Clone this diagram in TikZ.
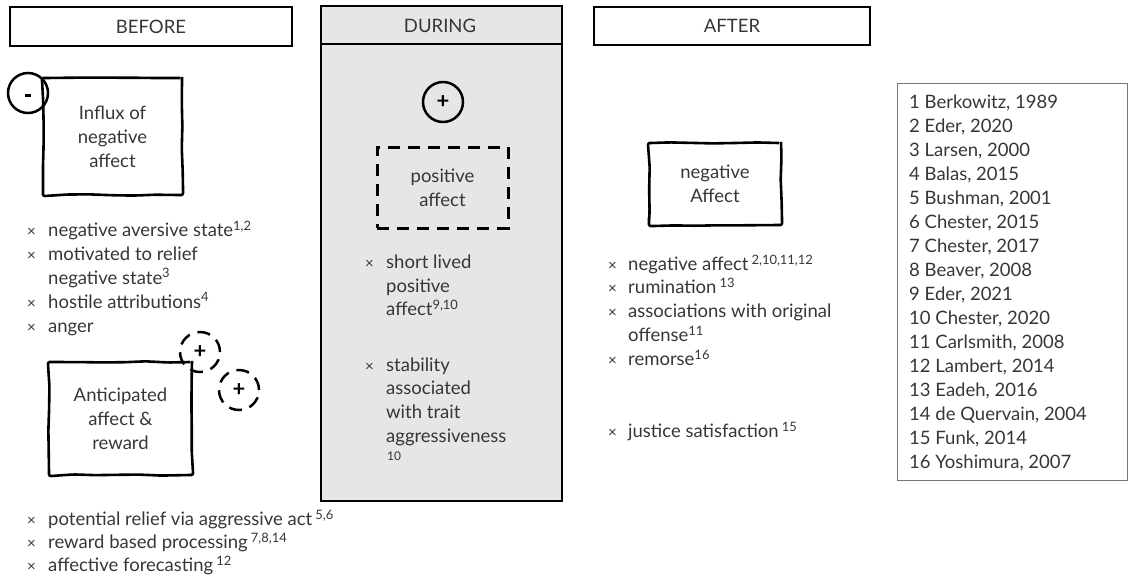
\documentclass[tikz,border=0pt]{standalone}
\usepackage{fontspec}
\setmainfont{Lato}
\usetikzlibrary{decorations.pathmorphing}
\definecolor{tg}{HTML}{363636}
\definecolor{dgrey}{HTML}{E6E6E6}
\definecolor{refline}{HTML}{777777}
\newcommand\myfs{\fontsize{18.5}{24}\selectfont}
\newcommand\mysup[1]{\textsuperscript{#1}}
\begin{document}
\begin{tikzpicture}[x=1pt,y=-1pt,
  txt/.style={inner sep=0pt, anchor=base west, text=tg, font=\myfs},
  bul/.style={inner sep=0pt, anchor=base west, text=tg, font=\fontsize{15}{17}\selectfont},
  hdr/.style={draw, line width=2.6pt, inner sep=0pt, text=tg, font=\myfs},
  sketch/.style={draw, line width=2.6pt, align=center, text=tg, font=\myfs, inner sep=0pt,
     decorate, decoration={random steps, segment length=22pt, amplitude=0.8pt}, rounded corners=2pt},
  dsketch/.style={draw, line width=3pt, align=center, text=tg, font=\myfs, inner sep=0pt,
     dash pattern=on 12pt off 8pt},
  sign/.style={circle, draw, line width=2.5pt, minimum size=40pt, inner sep=0pt, font=\bfseries\fontsize{22}{24}\selectfont},
  dsign/.style={sign, dash pattern=on 13pt off 8pt}
]
\pgfmathsetseed{11}
\useasboundingbox (0,0) rectangle (1129,582);

% headers
\node[hdr, minimum width=282pt, minimum height=39pt] (before) at (151,26.5) {BEFORE};
\node[draw, line width=2pt, fill=dgrey, minimum width=241pt, minimum height=495pt, inner sep=0pt] (during) at (441.5,253.5) {};
\coordinate (sepL) at (321,44);
\coordinate (sepR) at (562,44);
\draw[line width=2pt] (sepL) -- (sepR);
\node[text=tg, font=\myfs, inner sep=0pt] (duringlbl) at (440,25.5) {DURING};
\node[hdr, minimum width=276pt, minimum height=38pt] (after) at (732,26) {AFTER};

% BEFORE column
\node[sketch, minimum width=139pt, minimum height=117pt] (influx) at (112.5,136.5) {Influx of\\negative\\affect};
\node[sign] (minus) at (28,93) {};
\node[fill=black, minimum width=5.5pt, minimum height=2.8pt, inner sep=0pt] (minusbar) at (28,95.5) {};

\node[bul] (b1x) at (27,236.5) {×};
\node[txt] (b1) at (48,236.5) {negative aversive state\mysup{1,2}};
\node[bul] (b2x) at (27,260) {×};
\node[txt] (b2) at (48,260) {motivated to relief};
\node[txt] (b2b) at (48,284) {negative state\mysup{3}};
\node[bul] (b3x) at (27,308) {×};
\node[txt] (b3) at (48,308) {hostile attributions\mysup{4}};
\node[bul] (b4x) at (27,332) {×};
\node[txt] (b4) at (48,332) {anger};

\node[sketch, minimum width=143pt, minimum height=113pt] (antic) at (120.5,418.5) {Anticipated\\affect \&\\reward};
\node[dsign] (plusA) at (200,352) {+};
\node[dsign] (plusB) at (239,390) {+};

\node[bul] (c1x) at (27,525.5) {×};
\node[txt] (c1) at (48,525.5) {potential relief via aggressive act\,\mysup{5,6}};
\node[bul] (c2x) at (27,548.5) {×};
\node[txt] (c2) at (48,548.5) {reward based processing\,\mysup{7,8,14}};
\node[bul] (c3x) at (27,571.5) {×};
\node[txt] (c3) at (48,571.5) {affective forecasting\,\mysup{12}};

% DURING column
\node[sign] (plusD) at (443,102) {+};
\node[dsketch, minimum width=131pt, minimum height=81pt] (pos) at (442.5,187.5) {positive\\affect};

\node[bul] (d1x) at (365,268.5) {×};
\node[txt] (d1) at (386,268.5) {short lived};
\node[txt] (d1b) at (386,292.5) {positive};
\node[txt] (d1c) at (386,315.5) {affect\mysup{9,10}};
\node[bul] (d2x) at (365,371.5) {×};
\node[txt] (d2) at (386,371.5) {stability};
\node[txt] (d2b) at (386,394.5) {associated};
\node[txt] (d2c) at (386,418.5) {with trait};
\node[txt] (d2d) at (386,442.5) {aggressiveness};
\node[txt, font=\fontsize{12}{14}\selectfont] (d2e) at (387,460) {10};

% AFTER column
\node[sketch, minimum width=132pt, minimum height=82pt] (neg) at (715,184) {negative\\Affect};

\node[bul] (a1x) at (608,270.5) {×};
\node[txt] (a1) at (628,270.5) {negative affect\,\mysup{2,10,11,12}};
\node[bul] (a2x) at (608,293.5) {×};
\node[txt] (a2) at (628,293.5) {rumination\,\mysup{13}};
\node[bul] (a3x) at (608,317.5) {×};
\node[txt] (a3) at (628,317.5) {associations with original};
\node[txt] (a3b) at (628,341.5) {offense\mysup{11}};
\node[bul] (a4x) at (608,365.5) {×};
\node[txt] (a4) at (628,365.5) {remorse\mysup{16}};
\node[bul] (a5x) at (608,437.5) {×};
\node[txt] (a5) at (628,437.5) {justice satisfaction\,\mysup{15}};

% references
\node[draw=refline, line width=1pt, minimum width=230pt, minimum height=397pt, inner sep=0pt] (refs) at (1012.5,281.5) {};
\foreach \t [count=\i from 0] in {{1 Berkowitz, 1989}, {2 Eder, 2020}, {3 Larsen, 2000}, {4 Balas, 2015},
  {5 Bushman, 2001}, {6 Chester, 2015}, {7 Chester, 2017}, {8 Beaver, 2008}, {9 Eder, 2021},
  {10 Chester, 2020}, {11 Carlsmith, 2008}, {12 Lambert, 2014}, {13 Eadeh, 2016},
  {14 de Quervain, 2004}, {15 Funk, 2014}, {16 Yoshimura, 2007}}
  \node[txt] (ref\i) at (909,108.5+24*\i) {\t};
\end{tikzpicture}
\end{document}
